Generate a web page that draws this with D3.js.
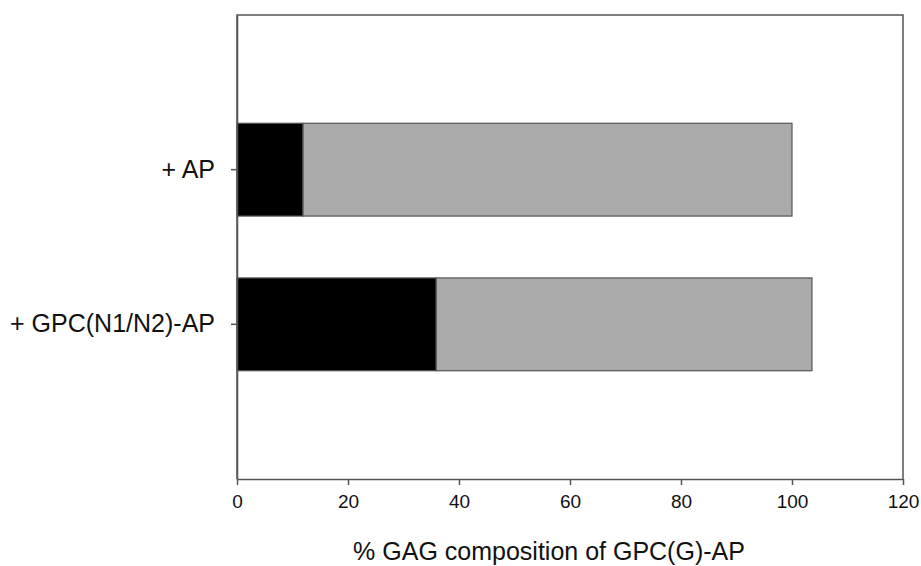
<!DOCTYPE html>
<html>
<head>
<meta charset="utf-8">
<script src="https://cdn.jsdelivr.net/npm/d3@7"></script>
<style>
  body { margin: 0; background: #fff; }
  text { font-family: "Liberation Sans", Arial, sans-serif; }
</style>
</head>
<body>
<svg id="chart"></svg>
<script>
const w = 921
const h = 566

// data
const categories = ['+ AP', '+ GPC(N1/N2)-AP']
const blackPart = [11.9, 35.9]
const grayPart = [88.1, 67.7]
const xTicks = [0, 20, 40, 60, 80, 100, 120]
const xTitle = '% GAG composition of GPC(G)-AP'

const margin = { left: 237, right: 18, top: 15, bottom: 87 }
const innerW = w - margin.left - margin.right
const innerH = h - margin.top - margin.bottom

const svg = d3.select('#chart')
	.attr('width', w)
	.attr('height', h)

const g = svg.append('g')
	.attr('transform', `translate(${margin.left}, ${margin.top})`)

const xScale = d3.scaleLinear()
	.domain([0, 120])
	.range([0, innerW])

const yScale = d3.scaleBand()
	.domain(categories)
	.range([0, innerH])
	.paddingInner(0.4)
	.paddingOuter(0.7)

// stack the two parts
const rows = categories.map((c, i) => ({ cat: c, black: blackPart[i], gray: grayPart[i] }))
const stacked = d3.stack().keys(['black', 'gray'])(rows)
const colors = { black: '#000000', gray: '#aaaaaa' }

g.selectAll('g.layer').data(stacked).enter()
	.append('g').attr('class', 'layer')
	.attr('fill', d => colors[d.key])
	.selectAll('rect').data(d => d).enter()
	.append('rect')
	.attr('x', d => xScale(d[0]))
	.attr('width', d => xScale(d[1]) - xScale(d[0]))
	.attr('y', d => yScale(d.data.cat))
	.attr('height', yScale.bandwidth())
	.attr('stroke', '#555')
	.attr('stroke-width', 1.2)

// frame top + right
g.append('path')
	.attr('d', `M0,${innerH} V0 H${innerW} V${innerH}`)
	.attr('fill', 'none')
	.attr('stroke', '#555')
	.attr('stroke-width', 1.5)

// x axis
const xAxis = g.append('g')
	.attr('transform', `translate(0, ${innerH})`)
	.call(d3.axisBottom(xScale).tickValues(xTicks).tickSize(6).tickSizeOuter(0).tickPadding(10))
xAxis.select('.domain').attr('stroke', '#555').attr('stroke-width', 1.5)
xAxis.selectAll('.tick line').attr('stroke', '#555').attr('stroke-width', 1.5)
xAxis.selectAll('text').attr('font-size', 19).attr('fill', '#111')

// y axis
const yAxis = g.append('g')
	.call(d3.axisLeft(yScale).tickSize(6).tickSizeOuter(0).tickPadding(16))
yAxis.select('.domain').attr('stroke', '#555').attr('stroke-width', 1.5)
yAxis.selectAll('.tick line').attr('stroke', '#555').attr('stroke-width', 1.5)
yAxis.selectAll('text').attr('font-size', 25).attr('fill', '#111')

svg.append('text')
	.attr('x', 549)
	.attr('y', 560)
	.attr('text-anchor', 'middle')
	.attr('font-size', 25)
	.attr('fill', '#111')
	.text(xTitle)
</script>
</body>
</html>
